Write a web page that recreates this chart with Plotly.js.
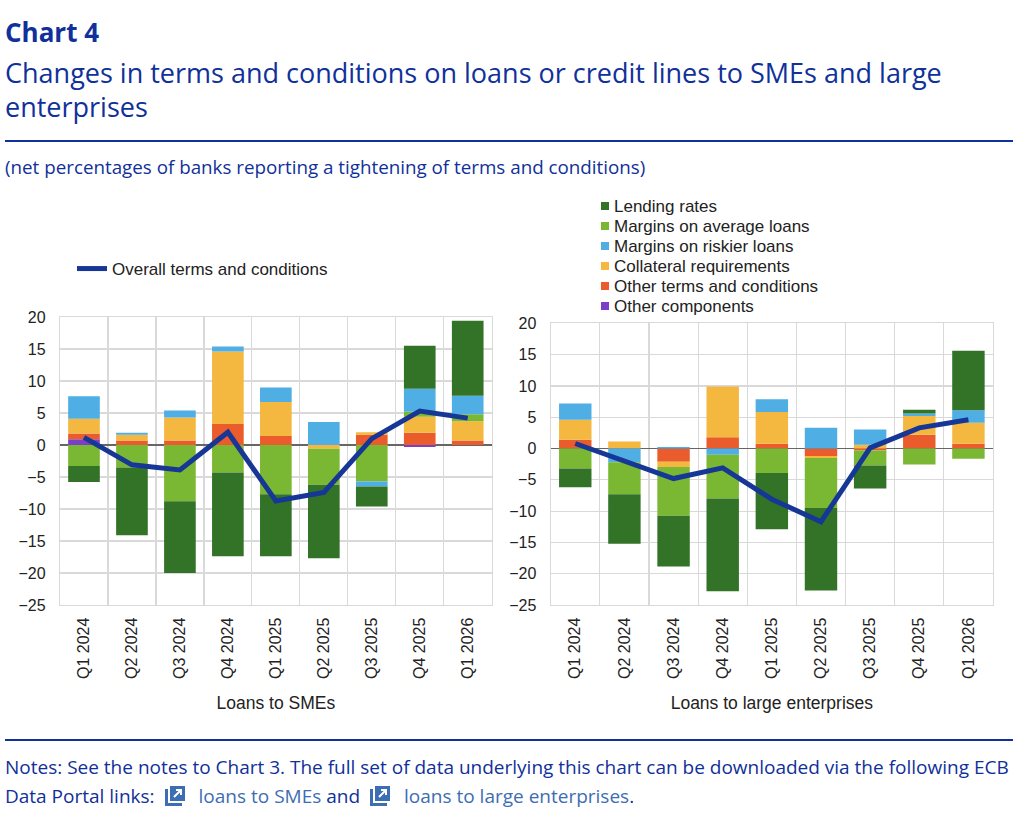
<!DOCTYPE html>
<html>
<head>
<meta charset="utf-8">
<script src="https://cdn.plot.ly/plotly-3.0.1.min.js"></script>
<style>
  html, body { margin:0; padding:0; background:#fff; }
  body { width:1024px; height:828px; position:relative; overflow:hidden; font-family:"Open Sans", "Noto Sans", sans-serif; color:#10309a; }
  #chart { position:absolute; left:0; top:0; width:1024px; height:828px; }
  .t1 { position:absolute; left:5px; top:14px; font-size:26px; font-weight:700; line-height:36px; white-space:nowrap; }
  .t2 { position:absolute; left:5px; top:56px; font-size:27px; line-height:34px; white-space:nowrap; }
  .rule { position:absolute; left:5px; width:1008px; height:2px; background:#10309a; }
  .sub { position:absolute; left:5px; top:154px; font-size:18.8px; line-height:26px; white-space:nowrap; }
  .notes { position:absolute; left:5px; top:753px; font-size:19px; line-height:29px; white-space:nowrap; }
  .lnk { color:#3d6db3; }
  .ico { display:inline-block; vertical-align:-4px; margin:0 12px 0 8px; }
</style>
</head>
<body>
<div id="chart"></div>
<div class="t1">Chart 4</div>
<div class="t2">Changes in terms and conditions on loans or credit lines to SMEs and large<br>enterprises</div>
<div class="rule" style="top:140px"></div>
<div class="sub">(net percentages of banks reporting a tightening of terms and conditions)</div>
<div class="rule" style="top:739px"></div>
<div class="notes">Notes: See the notes to Chart 3. The full set of data underlying this chart can be downloaded via the following ECB<br>Data Portal links:<svg class="ico" width="24" height="22" viewBox="0 0 24 22"><path d="M2 4 H5 V18 H19 V21 H2 Z" fill="#3d6db3"/><rect x="7" y="1" width="15" height="15" fill="#3d6db3"/><path d="M11 12 L18 5 M13 5 H18 V10" stroke="#fff" stroke-width="2" fill="none"/></svg><span class="lnk">loans to SMEs</span> and<svg class="ico" width="24" height="22" viewBox="0 0 24 22"><path d="M2 4 H5 V18 H19 V21 H2 Z" fill="#3d6db3"/><rect x="7" y="1" width="15" height="15" fill="#3d6db3"/><path d="M11 12 L18 5 M13 5 H18 V10" stroke="#fff" stroke-width="2" fill="none"/></svg><span class="lnk">loans to large enterprises</span>.</div>

<script>
// ---------- DATA ----------
const categories = ["Q1 2024","Q2 2024","Q3 2024","Q4 2024","Q1 2025","Q2 2025","Q3 2025","Q4 2025","Q1 2026"];

const seriesNames = ["Lending rates","Margins on average loans","Margins on riskier loans","Collateral requirements","Other terms and conditions","Other components"];
const seriesColors = ["#337328","#7ab834","#4faee4","#f4b840","#ea5c2b","#7b3fc7"];
const overallName = "Overall terms and conditions";

// Loans to SMEs
const smeLendingRates   = [-2.5,-10.6,-11.2,-13.1,-9.7,-11.5,-3.1, 6.7,11.7];
const smeMarginsAverage = [-3.3, -3.5, -8.8, -4.3,-7.7, -5.6,-5.7, 0.8, 1.1];
const smeMarginsRiskier = [ 3.5,  0.3,  1.1,  0.8, 2.3,  3.6,-0.8, 3.6, 2.9];
const smeCollateral     = [ 2.3,  0.9,  3.6, 11.3, 5.3, -0.6, 0.4, 2.5, 3.0];
const smeOtherTerms     = [ 0.9,  0.7,  0.7,  3.3, 1.4,  0.0, 1.6, 1.9, 0.7];
const smeOtherComp      = [ 0.9,  0.0,  0.0,  0.0, 0.0,  0.0, 0.0,-0.3, 0.0];
const smeOverall        = [ 1.2, -3.1, -3.9,  2.0,-8.75,-7.4, 1.0, 5.3, 4.2];

// Loans to large enterprises
const largeLendingRates   = [-3.0,-7.9,-8.1,-14.8,-9.0,-13.2,-3.7, 0.6, 9.5];
const largeMarginsAverage = [-3.2,-5.1,-7.8, -7.0,-3.9, -8.0,-2.4,-2.55,-1.65];
const largeMarginsRiskier = [ 2.6,-2.2, 0.25,-1.0, 2.0,  3.3, 2.45, 0.4, 2.0];
const largeCollateral     = [ 3.2, 1.1,-0.85, 8.1, 5.1, -0.3, 0.6, 3.0, 3.35];
const largeOtherTerms     = [ 1.4, 0.0,-2.1,  1.8, 0.75,-1.2,-0.3, 2.2, 0.75];
const largeOtherComp      = [ 0.0, 0.0, 0.0,  0.0, 0.0,  0.0, 0.0, 0.0, 0.0];
const largeOverall        = [ 0.8,-1.9,-4.8, -3.1,-8.1,-11.7, 0.1, 3.3, 4.6];

// ---------- BUILD ----------
const smeSeries = [smeLendingRates, smeMarginsAverage, smeMarginsRiskier, smeCollateral, smeOtherTerms, smeOtherComp];
const largeSeries = [largeLendingRates, largeMarginsAverage, largeMarginsRiskier, largeCollateral, largeOtherTerms, largeOtherComp];

// stacking order (from zero outward) per panel, as indices into seriesNames
const smeStackOrder = [5,4,3,1,2,0];
const largeStackOrder = [5,4,3,2,1,0];

const traces = [];
function addBars(series, order, xa, ya) {
  order.forEach(i => {
    traces.push({
      type:"bar", x:categories, y:series[i], name:seriesNames[i],
      marker:{color:seriesColors[i], line:{width:0}},
      xaxis:xa, yaxis:ya, showlegend:false, hoverinfo:"skip"
    });
  });
}
addBars(smeSeries, smeStackOrder, "x", "y");
addBars(largeSeries, largeStackOrder, "x2", "y2");

traces.push({type:"scatter", mode:"lines", x:categories, y:smeOverall, name:overallName,
  line:{color:"#173796", width:5}, xaxis:"x", yaxis:"y", showlegend:true});
traces.push({type:"scatter", mode:"lines", x:categories, y:largeOverall, name:overallName,
  line:{color:"#173796", width:5}, xaxis:"x2", yaxis:"y2", showlegend:false});

const tickFont = {family:"Liberation Sans, Arial, sans-serif", size:16, color:"#222"};
const titleFont = {family:"Liberation Sans, Arial, sans-serif", size:17.5, color:"#222"};
const legFont = {family:"Liberation Sans, Arial, sans-serif", size:17, color:"#222"};
const gridC = "#d9d9d9";
function xAxis(domain, title, anchor) {
  return {domain:domain, anchor:anchor, type:"category", tickangle:-90, tickfont:tickFont,
    showgrid:true, gridcolor:gridC, gridwidth:1.2, tickson:"boundaries", ticks:"", ticklen:0,
    ticklabelstandoff:5,
    showline:true, linecolor:gridC, linewidth:1.2, mirror:true, fixedrange:true,
    title:{text:title, font:titleFont, standoff:18}, automargin:false};
}
function yAxis(domain, anchor) {
  return {domain:domain, anchor:anchor, range:[-25,20], dtick:5, tickfont:tickFont,
    showgrid:true, gridcolor:gridC, gridwidth:1.2, zeroline:true, zerolinecolor:"#666", zerolinewidth:1.5,
    ticklabelstandoff:10,
    showline:true, linecolor:gridC, linewidth:1.2, mirror:true, ticks:"", fixedrange:true, automargin:false};
}

// custom legend for the bar components (markers + labels in page pixels)
const W = 1024, H = 828;
const legX = 601, legTextX = 612, legY0 = 206, legStep = 20;
const shapes = [], annotations = [];
seriesNames.forEach((nm, i) => {
  const yc = legY0 + i*legStep;
  shapes.push({type:"rect", xref:"paper", yref:"paper",
    x0:legX/W, x1:(legX+8)/W, y0:1-(yc+4)/H, y1:1-(yc-4)/H,
    fillcolor:seriesColors[i], line:{width:0}});
  annotations.push({xref:"paper", yref:"paper", x:legTextX/W, y:1-yc/H, xanchor:"left", yanchor:"middle",
    text:nm, showarrow:false, font:legFont});
});

const layout = {
  width:W, height:H, margin:{l:0,r:0,t:0,b:0},
  paper_bgcolor:"rgba(0,0,0,0)", plot_bgcolor:"#fff",
  barmode:"relative", bargap:0.34,
  xaxis: xAxis([60/W, 491.7/W], "Loans to SMEs", "y"),
  yaxis: yAxis([1-605/H, 1-317/H], "x"),
  xaxis2: xAxis([550.7/W, 993/W], "Loans to large enterprises", "y2"),
  yaxis2: yAxis([1-605/H, 1-323.3/H], "x2"),
  legend:{x:72/W, y:1-251/H, xanchor:"left", yanchor:"top", font:legFont, bgcolor:"rgba(0,0,0,0)", itemwidth:30},
  shapes:shapes, annotations:annotations,
  showlegend:true
};

Plotly.newPlot("chart", traces, layout, {staticPlot:true, displayModeBar:false});
</script>
</body>
</html>
